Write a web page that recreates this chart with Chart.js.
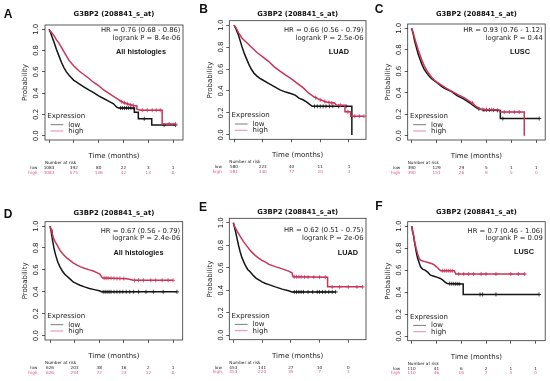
<!DOCTYPE html>
<html>
<head>
<meta charset="utf-8">
<script src="https://cdn.jsdelivr.net/npm/chart.js@4.4.1/dist/chart.umd.min.js"></script>
<style>
  html, body { margin: 0; padding: 0; background: #fff; }
  #wrap { position: relative; width: 550px; height: 381px; overflow: hidden; }
  #wrap canvas { position: absolute; left: 0; top: 0; }
  .tag { position: absolute; font: bold 12px "Liberation Sans", Arial, sans-serif; line-height: 12px;
         transform: translate(-50%, -50%); color: #111; }
</style>
</head>
<body>
<div id="wrap"></div>
<script>
// ---- values ----
const probeTitle = 'G3BP2 (208841_s_at)';
const timeTicks6 = [0, 50, 100, 150, 200, 250];
const timeTicks5 = [0, 50, 100, 150, 200];
const probTicks = [0, 0.2, 0.4, 0.6, 0.8, 1.0];

// survival curves, [months, probability]
const lowA = [[0,1],[3,0.97],[6,0.93],[10,0.88],[15,0.81],[20,0.75],[25,0.69],[30,0.64],[35,0.60],[40,0.57],[45,0.545],[50,0.52],[55,0.505],[60,0.49],[70,0.46],[80,0.43],[90,0.405],[100,0.375],[110,0.35],[120,0.325],[130,0.30],[136,0.27],[140,0.26],[172,0.26],[172,0.22],[180,0.22],[180,0.16],[207,0.16],[207,0.10],[255,0.10]];
const highA = [[0,1],[5,0.97],[10,0.94],[15,0.90],[20,0.87],[25,0.83],[30,0.79],[40,0.71],[50,0.655],[60,0.61],[70,0.575],[80,0.54],[90,0.50],[100,0.47],[110,0.43],[120,0.40],[130,0.37],[140,0.34],[150,0.31],[160,0.295],[170,0.285],[177,0.28],[177,0.25],[185,0.24],[228,0.24],[228,0.11],[255,0.11]];
const lowB = [[0,1],[3,0.97],[7,0.92],[10,0.87],[14,0.80],[18,0.74],[22,0.69],[26,0.64],[30,0.60],[35,0.56],[40,0.535],[45,0.515],[50,0.50],[60,0.47],[70,0.44],[80,0.41],[90,0.39],[100,0.375],[107,0.36],[113,0.335],[120,0.32],[126,0.30],[131,0.28],[136,0.26],[205,0.26],[205,0]];
const highB = [[0,1],[4,0.97],[8,0.93],[14,0.88],[20,0.85],[30,0.80],[40,0.75],[50,0.71],[60,0.67],[70,0.62],[80,0.58],[90,0.545],[100,0.51],[110,0.47],[120,0.43],[130,0.38],[138,0.35],[145,0.33],[155,0.31],[160,0.30],[175,0.29],[178,0.27],[193,0.27],[193,0.21],[203,0.21],[203,0.17],[226,0.17]];
const lowC = [[0,1],[3,0.95],[6,0.88],[9,0.83],[13,0.76],[17,0.71],[20,0.67],[25,0.62],[30,0.585],[35,0.555],[40,0.53],[46,0.51],[52,0.49],[60,0.46],[66,0.44],[80,0.41],[92,0.37],[105,0.34],[118,0.30],[130,0.26],[140,0.245],[145,0.24],[178,0.235],[178,0.16],[256,0.16]];
const highC = [[0,1],[3,0.96],[6,0.91],[9,0.86],[13,0.80],[17,0.75],[20,0.71],[25,0.655],[30,0.61],[35,0.575],[40,0.545],[46,0.515],[52,0.495],[60,0.47],[70,0.44],[80,0.415],[92,0.385],[105,0.355],[118,0.315],[130,0.27],[140,0.245],[175,0.24],[178,0.22],[226,0.22],[226,0]];
const lowD = [[0,1],[2,0.96],[4,0.90],[6,0.85],[8,0.80],[10,0.76],[13,0.71],[16,0.67],[20,0.63],[25,0.59],[30,0.56],[35,0.54],[40,0.52],[47,0.49],[54,0.475],[61,0.46],[70,0.445],[80,0.43],[90,0.42],[100,0.41],[105,0.40],[258,0.40]];
const highD = [[0,1],[2,0.97],[4,0.94],[7,0.89],[10,0.86],[14,0.83],[20,0.78],[27,0.74],[34,0.71],[40,0.69],[47,0.665],[54,0.645],[61,0.63],[70,0.615],[80,0.60],[88,0.59],[95,0.575],[102,0.56],[105,0.535],[108,0.525],[156,0.52],[170,0.505],[250,0.505]];
const lowE = [[0,1],[2,0.96],[4,0.92],[6,0.87],[9,0.80],[12,0.74],[15,0.69],[20,0.63],[25,0.585],[30,0.56],[35,0.53],[40,0.505],[45,0.49],[50,0.475],[56,0.46],[62,0.45],[73,0.43],[85,0.41],[96,0.395],[102,0.385],[178,0.385]];
const highE = [[0,1],[2,0.97],[6,0.93],[12,0.88],[18,0.83],[24,0.79],[30,0.75],[38,0.71],[44,0.685],[50,0.665],[56,0.65],[62,0.63],[73,0.61],[85,0.59],[96,0.57],[102,0.555],[104,0.52],[164,0.515],[164,0.43],[225,0.43]];
const lowF = [[0,1],[2,0.95],[4,0.91],[6,0.85],[8,0.80],[10,0.75],[12,0.71],[15,0.67],[18,0.63],[22,0.61],[27,0.60],[33,0.58],[38,0.555],[45,0.545],[52,0.535],[58,0.525],[63,0.51],[68,0.49],[72,0.48],[104,0.475],[104,0.38],[257,0.38]];
const highF = [[0,1],[2,0.96],[4,0.92],[6,0.86],[9,0.80],[12,0.75],[15,0.71],[18,0.69],[25,0.68],[33,0.67],[40,0.66],[45,0.65],[49,0.635],[53,0.62],[56,0.605],[59,0.595],[86,0.595],[89,0.565],[229,0.565]];

// censored patients (+ marks)
const censLowA = [[144,0.26],[148,0.26],[152,0.26],[156,0.26],[160,0.26],[165,0.26],[170,0.26],[192,0.16],[232,0.10],[255,0.10]];
const censHighA = [[146,0.32],[152,0.31],[158,0.30],[164,0.29],[170,0.285],[188,0.24],[198,0.24],[208,0.24],[216,0.24],[224,0.24],[242,0.11],[255,0.11]];
const censLowB = [[140,0.26],[145,0.26],[150,0.26],[155,0.26],[160,0.26],[166,0.26],[172,0.26],[182,0.26],[195,0.26]];
const censHighB = [[142,0.34],[150,0.32],[158,0.305],[165,0.295],[170,0.29],[185,0.27],[198,0.21],[210,0.17],[218,0.17],[226,0.17]];
const censLowC = [[135,0.25],[145,0.24],[150,0.24],[156,0.24],[164,0.238],[172,0.236],[183,0.16],[256,0.16]];
const censHighC = [[122,0.305],[142,0.245],[150,0.243],[160,0.242],[186,0.22],[196,0.22],[206,0.22],[216,0.22]];
const censLowD = [[108,0.40],[112,0.40],[116,0.40],[120,0.40],[124,0.40],[130,0.40],[136,0.40],[142,0.40],[148,0.40],[155,0.40],[162,0.40],[170,0.40],[180,0.40],[195,0.40],[210,0.40],[230,0.40],[258,0.40]];
const censHighD = [[110,0.525],[114,0.525],[118,0.525],[124,0.524],[130,0.523],[136,0.522],[142,0.522],[150,0.521],[172,0.505],[180,0.505],[190,0.505],[205,0.505],[215,0.505],[228,0.505],[240,0.505],[250,0.505]];
const censLowE = [[106,0.385],[110,0.385],[114,0.385],[118,0.385],[122,0.385],[130,0.385],[138,0.385],[146,0.385],[150,0.385],[155,0.385],[160,0.385],[166,0.385],[172,0.385],[178,0.385]];
const censHighE = [[106,0.52],[110,0.52],[114,0.52],[118,0.519],[124,0.518],[130,0.518],[140,0.517],[150,0.516],[160,0.515],[172,0.43],[185,0.43],[200,0.43],[215,0.43],[225,0.43]];
const censLowF = [[76,0.478],[80,0.477],[84,0.477],[88,0.476],[92,0.476],[96,0.475],[138,0.38],[143,0.38],[170,0.38],[257,0.38]];
const censHighF = [[62,0.595],[66,0.595],[70,0.595],[74,0.595],[78,0.595],[82,0.595],[95,0.565],[105,0.565],[115,0.565],[125,0.565],[140,0.565],[150,0.565],[170,0.565],[200,0.565],[215,0.565],[228,0.565]];

// number at risk
const riskLowA = [1083, 392, 80, 22, 3, 1],  riskHighA = [1083, 575, 136, 42, 13, 0];
const riskLowB = [580, 223, 40, 11, 1],      riskHighB = [581, 340, 77, 20, 3];
const riskLowC = [390, 129, 29, 5, 1, 1],    riskHighC = [390, 151, 26, 9, 5, 0];
const riskLowD = [626, 203, 38, 16, 2, 1],   riskHighD = [626, 294, 72, 23, 12, 0];
const riskLowE = [453, 141, 27, 10, 0],      riskHighE = [453, 220, 35, 7, 3];
const riskLowF = [110, 41, 6, 2, 1, 1],      riskHighF = [110, 46, 16, 7, 5, 0];

// ---- panel layout (page pixels) ----
const panels = [
  { tag: 'A', low: lowA, high: highA, cLow: censLowA, cHigh: censHighA, rLow: riskLowA, rHigh: riskHighA, ticks: timeTicks6,
    hr: 'HR = 0.76 (0.68 - 0.86)', lr: 'logrank P = 8.4e-06', sub: 'All histologies',
    box: [45, 183, 25, 140], xr: [-8.1, 270], titleY: 14, hrY: 30.5, sub_xy: [141, 52], tag_xy: [8, 14] },
  { tag: 'B', low: lowB, high: highB, cLow: censLowB, cHigh: censHighB, rLow: riskLowB, rHigh: riskHighB, ticks: timeTicks5,
    hr: 'HR = 0.66 (0.56 - 0.79)', lr: 'logrank P = 2.5e-06', sub: 'LUAD',
    box: [229.3, 366, 20.7, 139.3], xr: [-8.2, 229.6], titleY: 14, hrY: 30.5, sub_xy: [339, 51.5], tag_xy: [203.5, 8.5] },
  { tag: 'C', low: lowC, high: highC, cLow: censLowC, cHigh: censHighC, rLow: riskLowC, rHigh: riskHighC, ticks: timeTicks6,
    hr: 'HR = 0.93 (0.76 - 1.12)', lr: 'logrank P = 0.44', sub: 'LUSC',
    box: [407.7, 547.5, 24, 140], xr: [-7.9, 268], titleY: 14, hrY: 30.5, sub_xy: [520, 52], tag_xy: [379, 9] },
  { tag: 'D', low: lowD, high: highD, cLow: censLowD, cHigh: censHighD, rLow: riskLowD, rHigh: riskHighD, ticks: timeTicks6,
    hr: 'HR = 0.67 (0.56 - 0.79)', lr: 'logrank P = 2.4e-06', sub: 'All histologies',
    box: [45, 182.7, 221.7, 340], xr: [-10.2, 269.7], titleY: 213, hrY: 231, sub_xy: [138.5, 252.5], tag_xy: [8, 214] },
  { tag: 'E', low: lowE, high: highE, cLow: censLowE, cHigh: censHighE, rLow: riskLowE, rHigh: riskHighE, ticks: timeTicks5,
    hr: 'HR = 0.62 (0.51 - 0.75)', lr: 'logrank P = 2e-06', sub: 'LUAD',
    box: [229.3, 366, 218.3, 339.7], xr: [-7, 230.8], titleY: 212, hrY: 230.5, sub_xy: [348, 253], tag_xy: [203, 207] },
  { tag: 'F', low: lowF, high: highF, cLow: censLowF, cHigh: censHighF, rLow: riskLowF, rHigh: riskHighF, ticks: timeTicks6,
    hr: 'HR = 0.7 (0.46 - 1.06)', lr: 'logrank P = 0.09', sub: 'LUSC',
    box: [407.7, 547.7, 221.7, 340.7], xr: [-7.9, 269.3], titleY: 212.5, hrY: 231, sub_xy: [524, 251.5], tag_xy: [379, 206.3] }
];

const LOW_COL = '#151515', HIGH_COL = '#c93459';
const LOW_TXT = '#222', HIGH_TXT = '#dd5a80';
const W = 550, H = 381;

Chart.defaults.font.family = '"DejaVu Sans", sans-serif';

function txt(ctx, s, x, y, font, color, align) {
  ctx.font = font;
  ctx.fillStyle = color;
  ctx.textAlign = align || 'center';
  ctx.textBaseline = 'middle';
  ctx.fillText(s, x, y);
}

// draws the frame and all the annotation text of one panel
function panelText(p) {
  return {
    id: 'panelText' + p.tag,
    afterDraw(chart) {
      const { ctx, chartArea: a, scales: { x, y } } = chart;
      ctx.save();
      ctx.strokeStyle = '#333';
      ctx.lineWidth = 0.8;
      ctx.strokeRect(a.left, a.top, a.right - a.left, a.bottom - a.top);

      // rotated probability tick labels
      probTicks.forEach(v => {
        ctx.save();
        ctx.translate(a.left - 8.5, y.getPixelForValue(v));
        ctx.rotate(-Math.PI / 2);
        txt(ctx, v.toFixed(1), 0, 0, '7px "DejaVu Sans"', '#222');
        ctx.restore();
      });
      ctx.save();
      ctx.translate(a.left - 19.5, (a.top + a.bottom) / 2);
      ctx.rotate(-Math.PI / 2);
      txt(ctx, 'Probability', 0, 0, '7px "DejaVu Sans"', '#222');
      ctx.restore();
      txt(ctx, 'Time (months)', (a.left + a.right) / 2, a.bottom + 16, '7px "DejaVu Sans"', '#222');

      txt(ctx, probeTitle, (a.left + a.right) / 2, p.titleY, 'bold 6.8px "DejaVu Sans"', '#111');
      txt(ctx, p.hr, a.right - 2.5, p.hrY, '6.8px "DejaVu Sans"', '#222', 'right');
      txt(ctx, p.lr, a.right - 2.5, p.hrY + 7.5, '6.8px "DejaVu Sans"', '#222', 'right');
      txt(ctx, p.sub, p.sub_xy[0], p.sub_xy[1], 'bold 7.3px "Liberation Sans"', '#111');

      // legend
      txt(ctx, 'Expression', a.left + 2.3, a.bottom - 24, '7px "DejaVu Sans"', '#222', 'left');
      [['low', LOW_COL, a.bottom - 15.3], ['high', HIGH_COL, a.bottom - 9]].forEach(([lab, col, ly]) => {
        ctx.strokeStyle = col;
        ctx.globalAlpha = 0.7;
        ctx.lineWidth = 0.8;
        ctx.beginPath();
        ctx.moveTo(a.left + 5.5, ly);
        ctx.lineTo(a.left + 18.3, ly);
        ctx.stroke();
        ctx.globalAlpha = 1;
        txt(ctx, lab, a.left + 23.3, ly, '7px "DejaVu Sans"', '#222', 'left');
      });

      // number at risk
      const rf = '4.2px "DejaVu Sans"';
      txt(ctx, 'Number at risk', a.left, a.bottom + 23, rf, '#222', 'left');
      txt(ctx, 'low', a.left - 7.5, a.bottom + 27.8, rf, LOW_TXT, 'right');
      txt(ctx, 'high', a.left - 7.5, a.bottom + 32.6, rf, HIGH_TXT, 'right');
      p.ticks.forEach((t, i) => {
        const px = x.getPixelForValue(t);
        txt(ctx, String(p.rLow[i]), px, a.bottom + 27.8, rf, LOW_TXT);
        txt(ctx, String(p.rHigh[i]), px, a.bottom + 32.6, rf, HIGH_TXT);
      });
      ctx.restore();
    }
  };
}

const toXY = arr => arr.map(([t, s]) => ({ x: t, y: s }));
const wrap = document.getElementById('wrap');

panels.forEach(p => {
  const c = document.createElement('canvas');
  c.width = W;
  c.height = H;
  wrap.appendChild(c);

  const tag = document.createElement('div');
  tag.className = 'tag';
  tag.textContent = p.tag;
  tag.style.left = p.tag_xy[0] + 'px';
  tag.style.top = p.tag_xy[1] + 'px';
  wrap.appendChild(tag);

  const [L, R, T, B] = p.box;
  const axisGrid = { drawOnChartArea: false, tickLength: 3, color: '#333', lineWidth: 0.8 };

  new Chart(c.getContext('2d'), {
    type: 'line',
    data: {
      datasets: [
        { data: toXY(p.high), borderColor: HIGH_COL, borderWidth: 1.5, pointRadius: 0, tension: 0, order: 1 },
        { data: toXY(p.cHigh), showLine: false, borderColor: HIGH_COL, pointStyle: 'cross', pointRadius: 2, pointBorderWidth: 0.8, order: 1 },
        { data: toXY(p.low), borderColor: LOW_COL, borderWidth: 1.5, pointRadius: 0, tension: 0, order: 2 },
        { data: toXY(p.cLow), showLine: false, borderColor: LOW_COL, pointStyle: 'cross', pointRadius: 2, pointBorderWidth: 0.8, order: 2 }
      ]
    },
    options: {
      responsive: false,
      maintainAspectRatio: false,
      animation: false,
      devicePixelRatio: 1,
      layout: { padding: { left: L, top: T, right: W - R, bottom: H - B } },
      plugins: { legend: { display: false }, title: { display: false }, tooltip: { enabled: false } },
      scales: {
        x: {
          type: 'linear', min: p.xr[0], max: p.xr[1],
          afterBuildTicks: s => { s.ticks = p.ticks.map(v => ({ value: v })); },
          afterFit: s => { s.height = 0; s.paddingLeft = 0; s.paddingRight = 0; },
          grid: axisGrid,
          border: { display: false },
          ticks: { font: { size: 7 }, color: '#222', padding: 0, maxRotation: 0, autoSkip: false }
        },
        y: {
          type: 'linear', min: -0.04, max: 1.04,
          afterBuildTicks: s => { s.ticks = probTicks.map(v => ({ value: v })); },
          afterFit: s => { s.width = 0; s.paddingTop = 0; s.paddingBottom = 0; },
          grid: axisGrid,
          border: { display: false },
          ticks: { display: false }
        }
      }
    },
    plugins: [panelText(p)]
  });
});
</script>
</body>
</html>
